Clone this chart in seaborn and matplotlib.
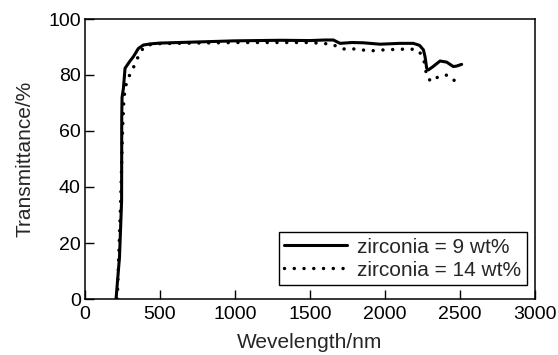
import matplotlib
matplotlib.use("Agg")
import matplotlib.pyplot as plt
import seaborn as sns
import pandas as pd

sns.set_theme(style="ticks")
plt.rcParams['font.family'] = ['Liberation Sans', 'DejaVu Sans']

wl_9 = [207, 230, 244, 245, 247, 256, 267, 300, 322, 356, 389, 433, 500, 1000, 1300, 1500,
        1600, 1656, 1700, 1780, 1856, 1967, 2100, 2189, 2230, 2256, 2267, 2278, 2289, 2320,
        2367, 2411, 2456, 2478, 2511]
t_9 = [0, 15, 35, 65, 72, 75.2, 82.4, 85, 86.5, 89.5, 90.7, 91.1, 91.4, 92.2, 92.4, 92.3,
       92.5, 92.5, 91.3, 91.6, 91.5, 91.0, 91.3, 91.3, 90.6, 89.0, 86.5, 82.4, 81.8, 83.0,
       85.0, 84.6, 83.0, 83.2, 83.8]

wl_14 = [215, 225, 238, 250, 258, 267, 284, 311, 340, 362, 400, 450, 500, 1000, 1500, 1600,
         1650, 1700, 1722, 1800, 1900, 2000, 2167, 2222, 2256, 2270, 2278, 2311, 2362, 2422, 2471]
t_14 = [0, 15, 35, 60, 70, 75.2, 78.4, 81.5, 84.5, 87.7, 90.4, 91.0, 91.2, 91.6, 91.6, 91.2,
        91.0, 89.5, 89.3, 89.3, 88.6, 89.0, 89.3, 88.9, 86.0, 82.4, 79.2, 77.6, 79.7, 80.0, 77.6]

labels = ["zirconia = 9 wt%", "zirconia = 14 wt%"]
x_ticks = [0, 500, 1000, 1500, 2000, 2500, 3000]
y_ticks = [0, 20, 40, 60, 80, 100]

df = pd.concat([
    pd.DataFrame({"wl": wl_9, "T": t_9, "s": labels[0]}),
    pd.DataFrame({"wl": wl_14, "T": t_14, "s": labels[1]}),
])

fig = plt.figure(figsize=(5.58, 3.55), dpi=100)
ax = fig.add_axes([85/558, 56/355, 450/558, 280/355])

sns.lineplot(data=df, x="wl", y="T", hue="s", style="s",
             palette={labels[0]: "black", labels[1]: "black"},
             dashes={labels[0]: "", labels[1]: (0.01, 2.8)},
             sort=False, estimator=None, ax=ax, legend=False)
lines = ax.get_lines()
lines[0].set_linewidth(2.2)
lines[0].set_solid_capstyle("round")
lines[0].set_solid_joinstyle("round")
lines[1].set_linewidth(2.5)
lines[1].set_dash_capstyle("round")

ax.set_xlim(0, 3000)
ax.set_ylim(0, 100)
ax.set_xticks(x_ticks)
ax.set_yticks(y_ticks)
ax.tick_params(direction="in", length=6.5, width=1, labelsize=14, colors="black",
               top=False, right=False)
ax.tick_params(axis="x", pad=5)
ax.tick_params(axis="y", pad=3)
for sp in ax.spines.values():
    sp.set_linewidth(1.1)
    sp.set_color("black")
ax.set_xlabel("Wevelength/nm", fontsize=15, labelpad=7)
ax.set_ylabel("Transmittance/%", fontsize=15, labelpad=10)

leg = ax.legend(lines, labels, loc="lower right", bbox_to_anchor=(0.9816, 0.05),
                borderaxespad=0, fontsize=15, frameon=True, fancybox=False,
                edgecolor="black", framealpha=1, handlelength=3.0, handletextpad=0.5,
                borderpad=0.25, labelspacing=0.2)
leg.get_frame().set_linewidth(1.0)

fig.savefig("out.png", dpi=100)
